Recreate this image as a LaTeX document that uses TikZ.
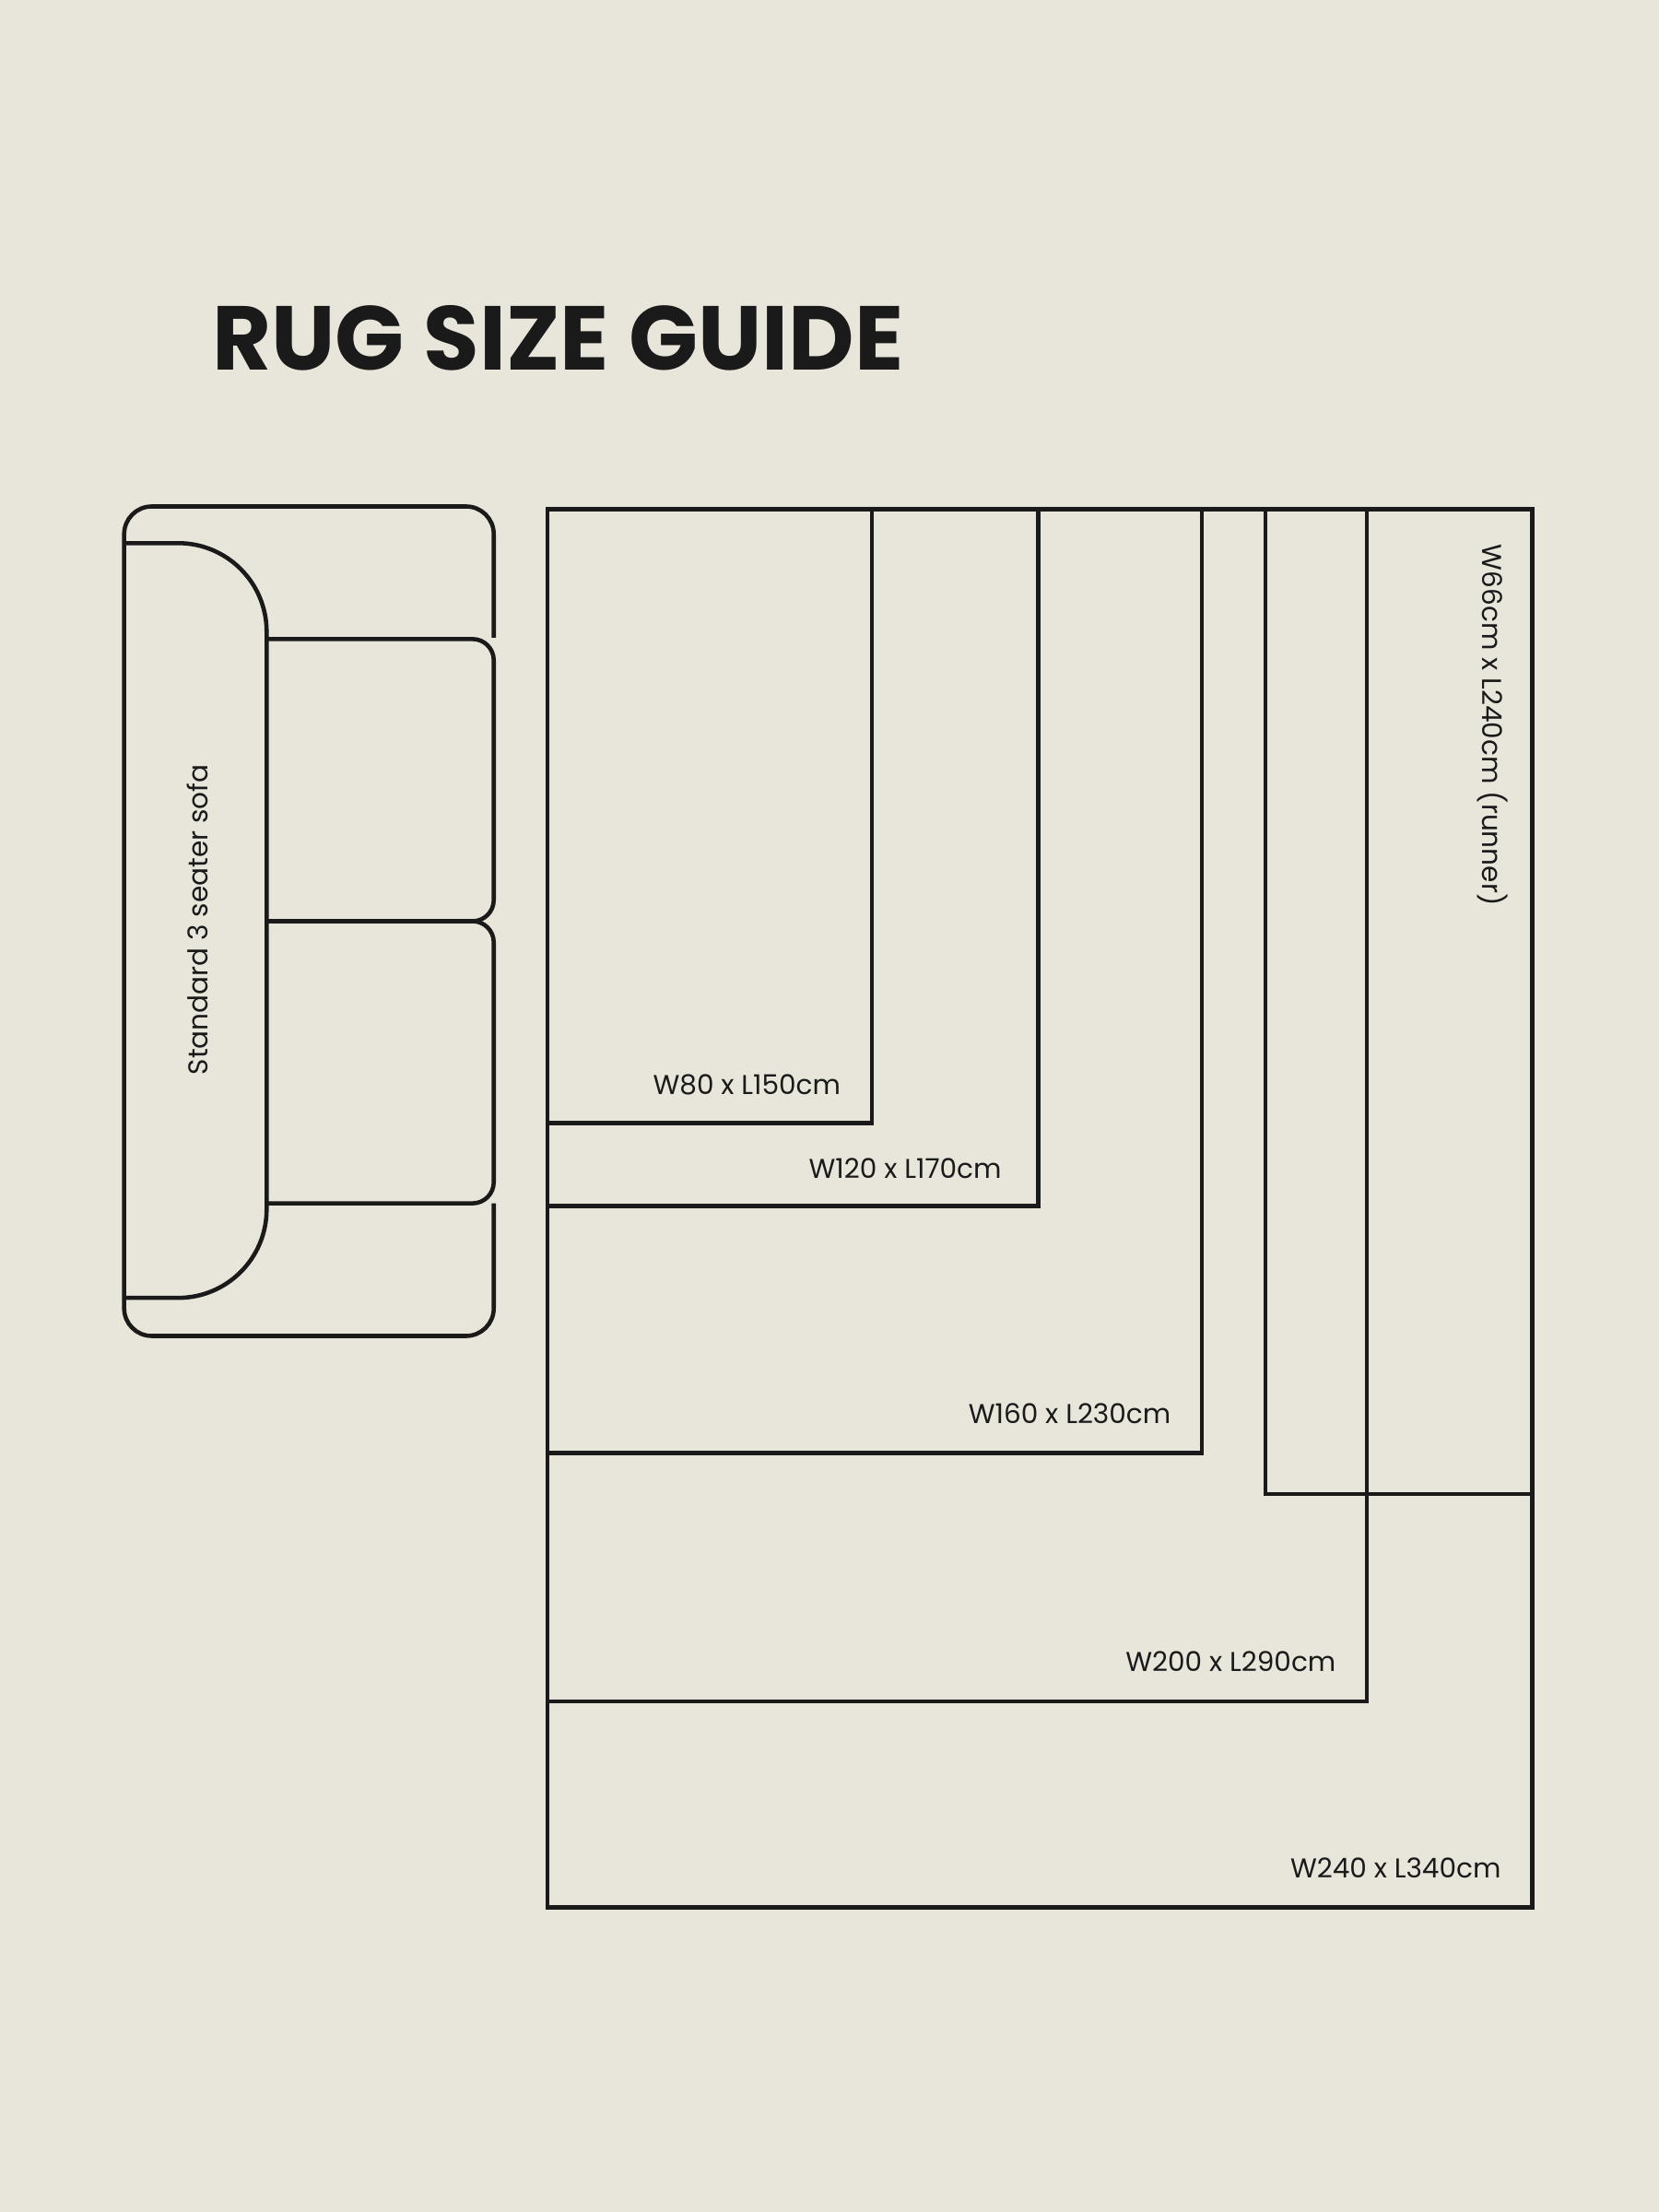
\documentclass[tikz,border=0pt]{standalone}
\usepackage{fontspec}
\setmainfont{Poppins}
\definecolor{paper}{HTML}{E8E5DA}
\definecolor{ink}{HTML}{1A1A1A}
\begin{document}
\begin{tikzpicture}[x=0.015306cm,y=-0.015306cm,
    plan/.style={draw=ink,line width=1.3pt},
    size/.style={anchor=base east,text=ink,font=\fontsize{8.4}{10}\selectfont}]
            \fill [paper] (0,0) rectangle (1176,1568);
            \useasboundingbox (0,0) rectangle (1176,1568);
            \node [anchor=base west,text=ink,font=\fontsize{28}{30}\bfseries\selectfont,inner sep=0pt] (title) at (150,262) {RUG SIZE GUIDE};
            % sofa
            \draw [plan,rounded corners=0.3cm] (350,452) -- (350,359) -- (88,359) -- (88,947) -- (350,947) -- (350,853);
            \draw [plan,rounded corners=0.96cm] (88,385) -- (189,385) -- (189,920) -- (88,920);
            \draw [plan,rounded corners=0.23cm] (189,453) -- (350,453) -- (350,653) -- (189,653);
            \draw [plan,rounded corners=0.23cm] (189,653) -- (350,653) -- (350,853) -- (189,853);
            \node [text=ink,rotate=90,font=\fontsize{8.4}{10}\selectfont] (sofa) at (140,652) {Standard 3 seater sofa};
            % rugs
            \draw [plan] (388,361) rectangle (1086,1352);
            \draw [plan] (388,361) rectangle (969,1206);
            \draw [plan] (388,361) rectangle (852,1030);
            \draw [plan] (388,361) rectangle (736,855);
            \draw [plan] (388,361) rectangle (618,796);
            \draw [plan] (897,361) rectangle (1086,1059);
            \node [size] (w80) at (604,776) {W80 x L150cm};
            \node [size] (w120) at (718,835) {W120 x L170cm};
            \node [size] (w160) at (838,1009) {W160 x L230cm};
            \node [size] (w200) at (955,1185) {W200 x L290cm};
            \node [size] (w240) at (1072,1331) {W240 x L340cm};
            \node [text=ink,rotate=-90,anchor=west,font=\fontsize{8.4}{10}\selectfont] (runner) at (1058,378) {W66cm x L240cm (runner)};
\end{tikzpicture}
\end{document}
